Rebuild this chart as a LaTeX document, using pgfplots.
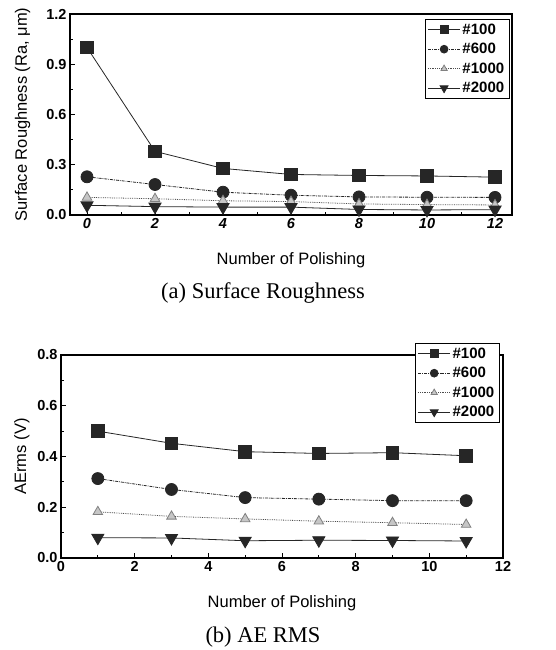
\documentclass[border=0pt]{standalone}
\usepackage{fontspec}
\setmainfont{Liberation Serif}
\setsansfont{Liberation Sans}
\usepackage{pgfplots}
\pgfplotsset{compat=1.18}

\pgfplotsset{
  common/.style={
    scale only axis, width=442pt, anchor=south west,
    axis line style={line width=1.1pt},
    tick style={black, line width=0.8pt},
    major tick length=5pt, minor tick length=3pt,
    tick align=inside, xtick pos=bottom, ytick pos=left,
    tick label style={font=\fontsize{14.5}{15}\sffamily\bfseries},
    /pgf/number format/assume math mode=true,
    yticklabel style={/pgf/number format/.cd, fixed, fixed zerofill, precision=1},
    label style={font=\fontsize{16.5}{17}\sffamily},
    legend cell align=left,
    legend style={draw=black, font=\fontsize{15}{15}\sffamily\bfseries,
                  inner sep=2.5pt, row sep=3.5pt, anchor=north east},
    legend image code/.code={
      \draw[mark repeat=2, mark phase=2, ##1, every mark/.append style={scale=0.65}]
        plot coordinates {(0pt,0pt) (16pt,0pt) (32pt,0pt)};},
  },
  s100/.style={black!85, line width=0.8pt, mark=square*, mark size=6.3pt},
  s600/.style={black!85, line width=0.8pt, densely dashdotted, mark=*, mark size=6pt,
               mark options={solid}},
  s1000/.style={black!70, line width=0.8pt, densely dotted, mark=triangle*, mark size=5.5pt,
                mark options={solid, fill=gray!45, draw=gray}},
  s2000/.style={black!85, line width=0.8pt, mark=triangle*, mark size=7pt,
                mark options={rotate=180}},
}

\begin{document}
\begin{tikzpicture}
\path[use as bounding box] (0pt,0pt) rectangle (555pt,650pt);

% (a) surface roughness
\begin{axis}[common, at={(70pt,435pt)}, height=201pt,
  xmin=-0.5, xmax=12.5, ymin=0, ymax=1.2,
  xtick={0,2,4,6,8,10,12}, minor xtick={1,3,5,7,9,11},
  ytick={0,0.3,0.6,0.9,1.2}, minor ytick={0.15,0.45,0.75,1.05},
  xticklabel style={font=\fontsize{14.5}{15}\sffamily\bfseries\itshape},
  xlabel={Number of Polishing},
  ylabel={Surface Roughness (Ra, μm)},
  xlabel style={at={(axis description cs:0.5,0)}, anchor=base, yshift=-50pt},
  ylabel style={at={(axis description cs:0,0.5)}, anchor=base, yshift=43pt},
  legend style={at={(0.993,0.975)}},
]
\addplot[s100] coordinates {(0,1.0) (2,0.38) (4,0.278) (6,0.242) (8,0.236) (10,0.233) (12,0.226)};
\addplot[s600] coordinates {(0,0.228) (2,0.182) (4,0.136) (6,0.118) (8,0.108) (10,0.106) (12,0.105)};
\addplot[s1000] coordinates {(0,0.105) (2,0.097) (4,0.085) (6,0.08) (8,0.066) (10,0.062) (12,0.06)};
\addplot[s2000] coordinates {(0,0.058) (2,0.05) (4,0.047) (6,0.047) (8,0.033) (10,0.03) (12,0.032)};
\legend{\#100, \#600, \#1000, \#2000}
\end{axis}
\node[font=\fontsize{22.5}{23}\selectfont, anchor=base] at (263pt,351pt) {(a) Surface Roughness};

% (b) AE RMS
\begin{axis}[common, at={(61pt,92pt)}, height=203pt,
  xmin=0, xmax=12, ymin=0, ymax=0.8,
  xtick={0,2,4,6,8,10,12}, minor xtick={1,3,5,7,9,11},
  ytick={0,0.2,0.4,0.6,0.8}, minor ytick={0.1,0.3,0.5,0.7},
  xlabel={Number of Polishing},
  ylabel={AErms (V)},
  xlabel style={at={(axis description cs:0.5,0)}, anchor=base, yshift=-49pt},
  ylabel style={at={(axis description cs:0,0.5)}, anchor=base, yshift=35pt},
  legend style={at={(0.991,1.059)}, fill=white},
]
\addplot[s100] coordinates {(1,0.5) (3,0.452) (5,0.419) (7,0.412) (9,0.415) (11,0.403)};
\addplot[s600] coordinates {(1,0.313) (3,0.27) (5,0.238) (7,0.232) (9,0.226) (11,0.226)};
\addplot[s1000] coordinates {(1,0.182) (3,0.164) (5,0.154) (7,0.145) (9,0.139) (11,0.132)};
\addplot[s2000] coordinates {(1,0.08) (3,0.079) (5,0.068) (7,0.07) (9,0.069) (11,0.067)};
\legend{\#100, \#600, \#1000, \#2000}
\end{axis}
\node[font=\fontsize{22.5}{23}\selectfont, anchor=base] at (263pt,7pt) {(b) AE RMS};
\end{tikzpicture}
\end{document}
